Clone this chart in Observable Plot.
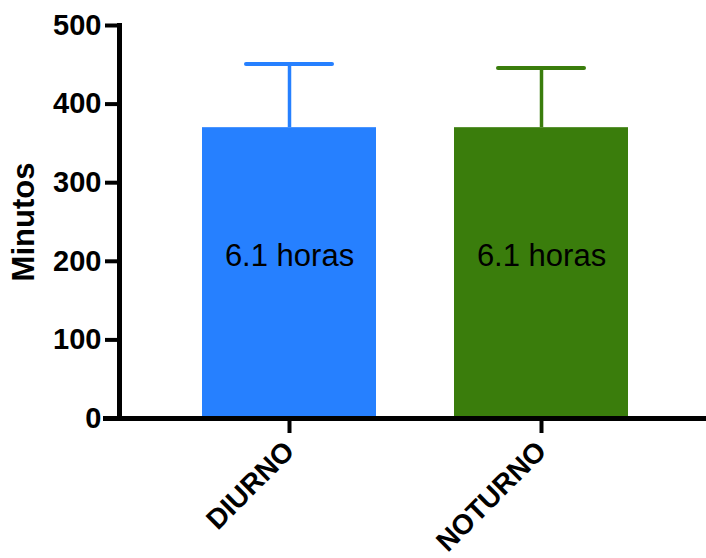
<!DOCTYPE html>
<html>
<head>
<meta charset="utf-8">
<script src="https://cdn.jsdelivr.net/npm/d3@7"></script>
<script src="https://cdn.jsdelivr.net/npm/@observablehq/plot@0.6"></script>
<style>
  html, body { margin: 0; padding: 0; background: #fff; }
  #chart svg { display: block; }
</style>
</head>
<body>
<div id="chart"></div>
<script>
const categories = ["DIURNO", "NOTURNO"];
const meanMinutes = [370, 370];
const sdMinutes = [81, 76];
const barLabels = ["6.1 horas", "6.1 horas"];
const barColors = ["#2680ff", "#3a7d0c"];
const yTicks = [0, 100, 200, 300, 400, 500];
const yLabel = "Minutos";

const data = categories.map((c, i) => ({
  cat: c, mean: meanMinutes[i], top: meanMinutes[i] + sdMinutes[i], label: barLabels[i]
}));

const font = "'Liberation Sans', Arial, Helvetica, sans-serif";

const chart = Plot.plot({
  width: 706,
  height: 558,
  marginLeft: 119,
  marginRight: 0,
  marginTop: 25,
  marginBottom: 140,
  style: { fontFamily: font, background: "#fff", color: "#000" },
  x: { domain: categories, range: [119, 711], paddingInner: 0.308, paddingOuter: 0.324, label: null },
  y: { domain: [0, 500], label: null },
  color: { domain: categories, range: barColors },
  marks: [
    Plot.barY(data, { x: "cat", y: "mean", fill: "cat" }),
    Plot.ruleX(data, { x: "cat", y1: "mean", y2: "top", stroke: "cat", strokeWidth: 3.5 }),
    Plot.tickY(data, { x: "cat", y: "top", stroke: "cat", strokeWidth: 4, strokeLinecap: "round", insetLeft: 44, insetRight: 44 }),
    Plot.text(data, { x: "cat", y: () => 200, text: "label", fontSize: 31, dy: -5, fill: "#000" }),
    Plot.ruleY([0], { stroke: "#000", strokeWidth: 5, insetLeft: -16 }),
    Plot.frame({ anchor: "left", stroke: "#000", strokeWidth: 5 }),
    Plot.axisY(yTicks, { tickSize: 14, strokeWidth: 4, tickPadding: 4, fontSize: 29, fontWeight: "bold", label: null }),
    Plot.axisX({ tickSize: 15, strokeWidth: 4, tickRotate: -45, fontSize: 28, fontWeight: "bold", tickPadding: 13, label: null }),
    Plot.text([yLabel], { frameAnchor: "left", textAnchor: "middle", rotate: -90, dx: -95, fontSize: 31, fontWeight: "bold", fill: "#000" })
  ]
});

document.getElementById("chart").appendChild(chart);
</script>
</body>
</html>
